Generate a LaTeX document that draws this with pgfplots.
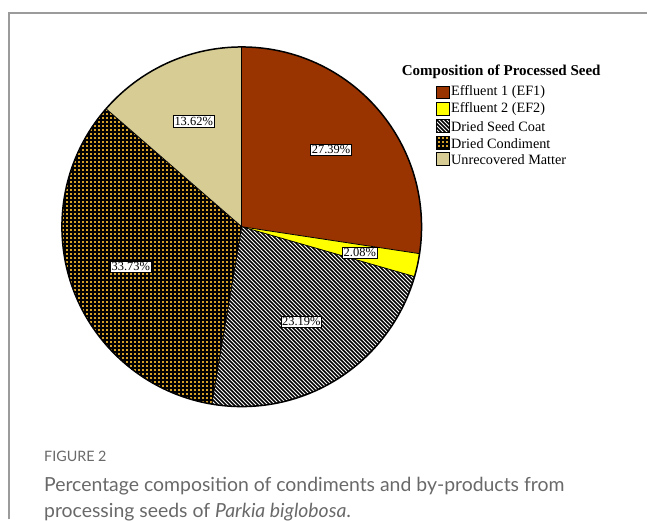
\documentclass[border=0pt]{standalone}
\usepackage{pgfplots}
\pgfplotsset{compat=1.18}
\usepackage{pgfplotstable}
\usetikzlibrary{patterns,calc}
\usepackage{fontspec}
\setmainfont{Liberation Serif}
\newfontfamily\capfont{Lato}
\definecolor{efone}{RGB}{153,51,0}
\definecolor{eftwo}{RGB}{255,255,0}
\definecolor{condgold}{RGB}{214,160,40}
\definecolor{unrec}{RGB}{214,204,148}
\definecolor{framegray}{RGB}{155,155,155}
\definecolor{capgray}{RGB}{105,105,105}

\pgfdeclarepatternformonly{seeddiag}{\pgfqpoint{0bp}{0bp}}{\pgfqpoint{4bp}{4bp}}{\pgfqpoint{4bp}{4bp}}{%
  \pgfsetlinewidth{1.45bp}%
  \pgfpathmoveto{\pgfqpoint{-0.5bp}{4.5bp}}\pgfpathlineto{\pgfqpoint{4.5bp}{-0.5bp}}%
  \pgfpathmoveto{\pgfqpoint{-1bp}{1bp}}\pgfpathlineto{\pgfqpoint{1bp}{-1bp}}%
  \pgfpathmoveto{\pgfqpoint{3bp}{5bp}}\pgfpathlineto{\pgfqpoint{5bp}{3bp}}%
  \pgfusepath{stroke}}
\pgfdeclarepatternformonly{condgrid}{\pgfqpoint{0bp}{0bp}}{\pgfqpoint{4bp}{4bp}}{\pgfqpoint{4bp}{4bp}}{%
  \pgfsetlinewidth{1.65bp}%
  \pgfpathmoveto{\pgfqpoint{0bp}{2bp}}\pgfpathlineto{\pgfqpoint{4bp}{2bp}}%
  \pgfpathmoveto{\pgfqpoint{2bp}{0bp}}\pgfpathlineto{\pgfqpoint{2bp}{4bp}}%
  \pgfusepath{stroke}}

\pgfplotstableread{
name value
EF1 27.39
EF2 2.08
DSC 23.19
DC 33.73
UM 13.62
}\piedata

\tikzset{
  sEA/.style={fill=efone},
  sEB/.style={fill=eftwo},
  sDS/.style={preaction={fill=white},pattern=seeddiag,pattern color=black},
  sDC/.style={preaction={fill=condgold},pattern=condgrid,pattern color=black},
  sUM/.style={fill=unrec},
  pct/.style={draw=black,line width=0.6bp,fill=white,inner sep=1.3bp,font=\fontsize{12.5}{13}\selectfont},
  legtxt/.style={anchor=west,font=\fontsize{14.3}{15}\selectfont,inner sep=0pt},
}

\begin{document}
\begin{tikzpicture}
\pgfplotstablegetelem{0}{value}\of\piedata \let\vA\pgfplotsretval
\pgfplotstablegetelem{1}{value}\of\piedata \let\vB\pgfplotsretval
\pgfplotstablegetelem{2}{value}\of\piedata \let\vC\pgfplotsretval
\pgfplotstablegetelem{3}{value}\of\piedata \let\vD\pgfplotsretval
\pgfplotstablegetelem{4}{value}\of\piedata \let\vE\pgfplotsretval
\pgfmathsetmacro\aA{90}
\pgfmathsetmacro\aB{\aA-3.6*\vA}
\pgfmathsetmacro\aC{\aB-3.6*\vB}
\pgfmathsetmacro\aD{\aC-3.6*\vC}
\pgfmathsetmacro\aE{\aD-3.6*\vD}
\def\aF{-270}
\pgfmathsetmacro\mA{(\aA+\aB)/2}
\pgfmathsetmacro\mB{(\aB+\aC)/2}
\pgfmathsetmacro\mC{(\aC+\aD)/2}
\pgfmathsetmacro\mD{(\aD+\aE)/2}
\pgfmathsetmacro\mE{(\aE+\aF)/2}
\begin{axis}[x=1bp,y=1bp,xmin=0,xmax=648,ymin=0,ymax=520,y dir=reverse,
  hide axis,clip=false,scale only axis]
\path (axis cs:0,0) rectangle (axis cs:648,520);
% frame
\draw[framegray,line width=1.4bp] (axis cs:9,520) -- (axis cs:9,13) -- (axis cs:648,13);
% slices
\path[sEA] (axis cs:242,227) -- ++(\aA:180bp) arc[start angle=\aA,end angle=\aB,radius=180bp] -- cycle;
\path[sEB] (axis cs:242,227) -- ++(\aB:180bp) arc[start angle=\aB,end angle=\aC,radius=180bp] -- cycle;
\path[sDS] (axis cs:242,227) -- ++(\aC:180bp) arc[start angle=\aC,end angle=\aD,radius=180bp] -- cycle;
\path[sDC] (axis cs:242,227) -- ++(\aD:180bp) arc[start angle=\aD,end angle=\aE,radius=180bp] -- cycle;
\path[sUM] (axis cs:242,227) -- ++(\aE:180bp) arc[start angle=\aE,end angle=\aF,radius=180bp] -- cycle;
\draw[black,line width=0.8bp] (axis cs:242,227) -- ++(\aA:180bp);
\draw[black,line width=0.8bp] (axis cs:242,227) -- ++(\aB:180bp);
\draw[black,line width=0.8bp] (axis cs:242,227) -- ++(\aC:180bp);
\draw[black,line width=0.8bp] (axis cs:242,227) -- ++(\aD:180bp);
\draw[black,line width=0.8bp] (axis cs:242,227) -- ++(\aE:180bp);
\draw[black,line width=1.5bp] (axis cs:242,227) circle[radius=180bp];
% labels
\node[pct] at ($(axis cs:242,227)+(\mA:118bp)$) {27.39\%};
\node[pct] at ($(axis cs:242,227)+(\mB:121bp)$) {2.08\%};
\node[pct] at ($(axis cs:242,227)+(\mC:112bp)$) {23.19\%};
\node[pct] at ($(axis cs:242,227)+(\mD:118bp)$) {33.73\%};
\node[pct] at ($(axis cs:242,227)+(\mE:116bp)$) {13.62\%};
% legend
\node[anchor=base west,inner sep=0pt,font=\bfseries\fontsize{15.1}{16}\selectfont] at (axis cs:402,76) {Composition of Processed Seed};
\path[sEA,draw=black,line width=0.8bp] (axis cs:437,86) rectangle (axis cs:450,99);
\path[sEB,draw=black,line width=0.8bp] (axis cs:437,103) rectangle (axis cs:450,116);
\path[sDS,draw=black,line width=0.8bp] (axis cs:437,120) rectangle (axis cs:450,133);
\path[sDC,draw=black,line width=0.8bp] (axis cs:437,137) rectangle (axis cs:450,150);
\path[sUM,draw=black,line width=0.8bp] (axis cs:437,153) rectangle (axis cs:450,166);
\node[legtxt] at (axis cs:451.5,92.5) {Effluent 1 (EF1)};
\node[legtxt] at (axis cs:451.5,109.5) {Effluent 2 (EF2)};
\node[legtxt] at (axis cs:451.5,126.5) {Dried Seed Coat};
\node[legtxt] at (axis cs:451.5,143.5) {Dried Condiment};
\node[legtxt] at (axis cs:451.5,159.5) {Unrecovered Matter};
% caption
\node[anchor=base west,inner sep=0pt,text=capgray,font=\capfont\fontsize{14.4}{16}\selectfont] at (axis cs:44,462) {FIGURE 2};
\node[anchor=base west,inner sep=0pt,text=capgray,font=\capfont\fontsize{19.5}{22}\selectfont] at (axis cs:44,492) {Percentage composition of condiments and by-products from};
\node[anchor=base west,inner sep=0pt,text=capgray,font=\capfont\fontsize{19.5}{22}\selectfont] at (axis cs:44,518) {processing seeds of \textit{Parkia biglobosa}.};
\end{axis}
\end{tikzpicture}
\end{document}
